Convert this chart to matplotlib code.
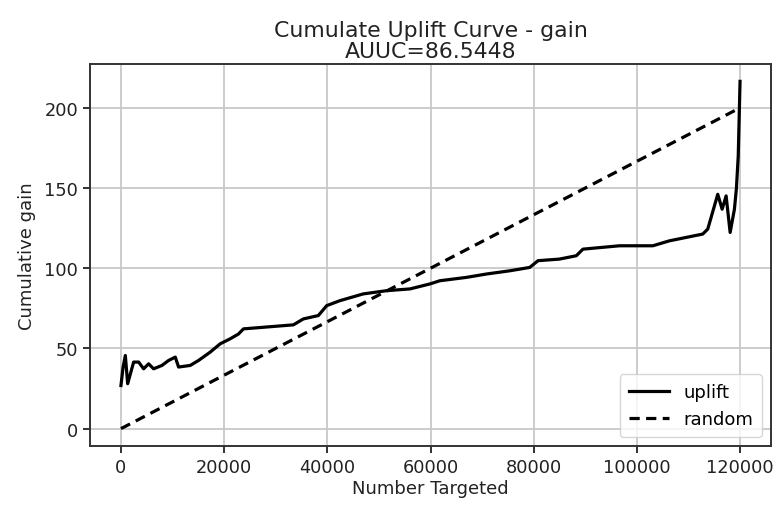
import matplotlib
matplotlib.use("Agg")
import matplotlib.pyplot as plt

# Data
uplift_x = [0, 400, 850, 1300, 2460, 3430, 4390, 5360, 6330, 7950, 9230, 10530, 11170,
            13430, 15040, 17300, 19240, 21170, 22780, 23750, 27620, 33420, 35360, 38260,
            39890, 42460, 46970, 51500, 56010, 59880, 61810, 66980, 70850, 75360, 79230,
            80840, 84990, 88270, 89550, 96640, 103100, 106330, 112770, 113740, 115680,
            116530, 117300, 118080, 118910, 119300, 119650, 120000]
uplift_y = [26.9, 38, 45.6, 28, 41.5, 41.5, 37.3, 40.4, 37.3, 39.4, 42.5, 44.6, 38.4,
            39.4, 42.5, 47.7, 52.9, 56, 59, 62.2, 63.2, 64.7, 68.4, 70.5,
            76.7, 79.8, 84, 86, 87.1, 90.2, 92.2, 94.3, 96.4, 98.4, 100.5,
            104.7, 105.7, 107.8, 111.9, 114, 114, 117.1, 121.3, 124.4, 146.1,
            136.8, 145.1, 122.3, 136.8, 150, 170, 216.5]
random_x = [0, 120000]
random_y = [0, 200]

title = "Cumulate Uplift Curve - gain\nAUUC=86.5448"
xlabel = "Number Targeted"
ylabel = "Cumulative gain"

fig = plt.figure(figsize=(7.76, 5.06), dpi=100)
ax = fig.add_axes([90/776, 59/506, 681/776, 382/506])

ax.plot(uplift_x, uplift_y, color="black", lw=2.3, label="uplift")
ax.plot(random_x, random_y, color="black", lw=2.3, ls="--", dashes=(3.2, 2.0), label="random")

ax.grid(True, color="#c8c8c8", lw=1.3)
ax.set_axisbelow(True)
ax.set_xticks([0, 20000, 40000, 60000, 80000, 100000, 120000])
ax.set_yticks([0, 50, 100, 150, 200])
ax.tick_params(labelsize=12.8, length=5, width=1.3, colors="#222222")
for s in ax.spines.values():
    s.set_linewidth(1.4)
    s.set_color("#333333")

ax.set_title(title, fontsize=15.8, color="#222222", pad=5, linespacing=1.05)
ax.set_xlabel(xlabel, fontsize=13, color="#222222", labelpad=2)
ax.set_ylabel(ylabel, fontsize=13, color="#222222", labelpad=6)
ax.legend(loc="lower right", fontsize=13, handlelength=2.2, borderpad=0.5)

fig.savefig("out.png", dpi=100)
